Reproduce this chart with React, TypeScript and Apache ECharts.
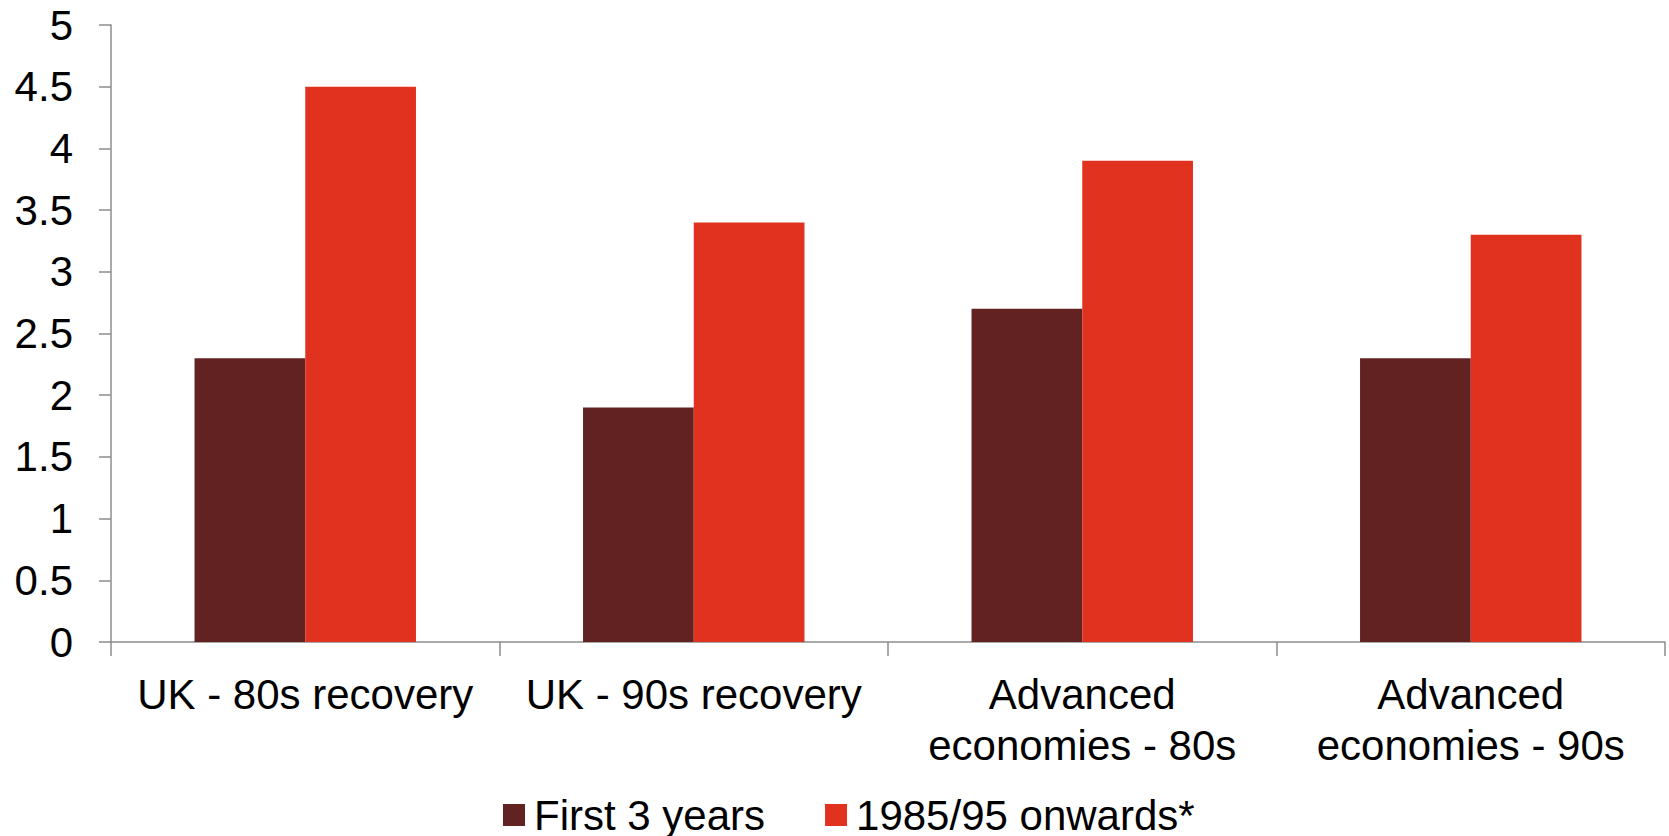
import React, { useEffect, useRef } from "react";
import * as echarts from "echarts";

const categories = [
  "UK - 80s recovery",
  "UK - 90s recovery",
  "Advanced\neconomies - 80s",
  "Advanced\neconomies - 90s",
];
const firstThreeYears = [2.3, 1.9, 2.7, 2.3];
const onwards = [4.5, 3.4, 3.9, 3.3];
const seriesNames = ["First 3 years", "1985/95 onwards*"];

export default function App() {
  const ref = useRef<HTMLDivElement>(null);
  useEffect(() => {
    if (!ref.current) return;
    const chart = echarts.init(ref.current, null, { renderer: "svg" });
    const font = "'Liberation Sans', Arial, sans-serif";
    const axisColor = "#8c8c8c";
    chart.setOption({
      animation: false,
      textStyle: { fontFamily: font },
      grid: { left: 111, right: 4, top: 25, bottom: 194, containLabel: false },
      legend: {
        left: 498,
        top: 789,
        itemWidth: 22,
        itemHeight: 22,
        itemGap: 60,
        icon: "rect",
        textStyle: { fontSize: 42, color: "#000", fontFamily: font, padding: [0, 0, 0, 4] },
        data: seriesNames,
      },
      xAxis: {
        type: "category",
        data: categories,
        axisLine: { lineStyle: { color: axisColor, width: 1.5 } },
        axisTick: { show: true, length: 14, alignWithLabel: false, lineStyle: { color: axisColor, width: 1.5 } },
        axisLabel: {
          fontSize: 42,
          color: "#000",
          fontFamily: font,
          lineHeight: 51,
          margin: 27,
          interval: 0,
        },
        splitLine: { show: false },
      },
      yAxis: {
        type: "value",
        min: 0,
        max: 5,
        interval: 0.5,
        axisLine: { show: true, lineStyle: { color: axisColor, width: 1.5 } },
        axisTick: { show: true, length: 12, lineStyle: { color: axisColor, width: 1.5 } },
        axisLabel: { fontSize: 42, color: "#000", fontFamily: font, margin: 38 },
        splitLine: { show: false },
      },
      series: [
        {
          name: seriesNames[0],
          type: "bar",
          data: firstThreeYears,
          itemStyle: { color: "#622222" },
          barGap: "0%",
          barCategoryGap: "43%",
        },
        {
          name: seriesNames[1],
          type: "bar",
          data: onwards,
          itemStyle: { color: "#e0321f" },
          barGap: "0%",
          barCategoryGap: "43%",
        },
      ],
    });
    return () => chart.dispose();
  }, []);
  return (
    <div
      ref={ref}
      style={{ position: "fixed", left: 0, top: 0, width: 1669, height: 836, background: "#fff" }}
    />
  );
}
